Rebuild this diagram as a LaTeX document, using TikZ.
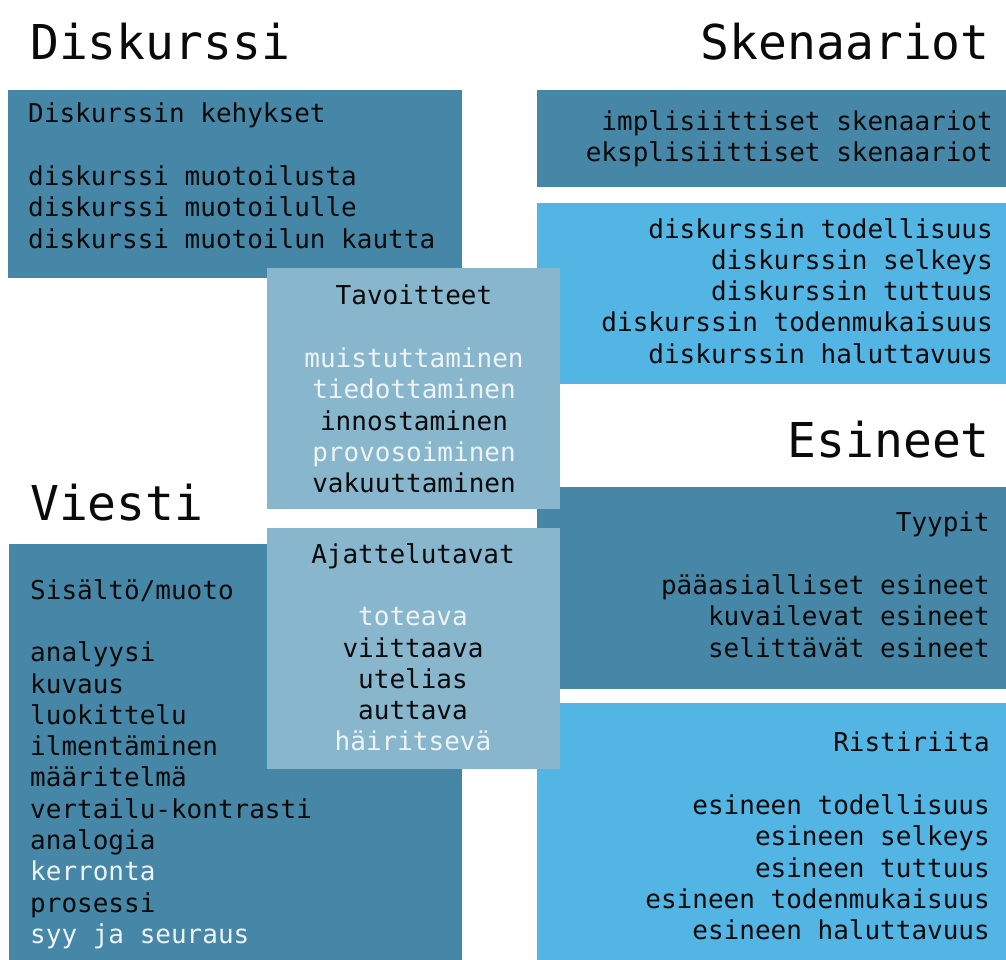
\documentclass[tikz,border=0pt]{standalone}
\usepackage{fontspec}
\setmonofont{DejaVu Sans Mono}
\usepackage{xcolor}
\definecolor{boxdark}{HTML}{4686A6}
\definecolor{boxlight}{HTML}{52B5E3}
\definecolor{boxpale}{HTML}{88B6CC}
\definecolor{inkwhite}{HTML}{EEF4F6}
\definecolor{inkblack}{HTML}{0A0A0A}
\newcommand{\hl}[1]{\textcolor{inkwhite}{#1}}
\tikzset{
	heading/.style={
			inner sep=0pt, text=inkblack,
			font=\ttfamily\fontsize{48pt}{56pt}\selectfont
		},
	listtext/.style={
			inner sep=0pt, text=inkblack,
			font=\ttfamily\fontsize{26pt}{31.3pt}\selectfont
		}
}

\begin{document}
\begin{tikzpicture}[x=1pt,y=-1pt]
        \useasboundingbox (0,0) rectangle (1006,960);

        % Outer boxes
        \fill[boxdark] (8,90) rectangle (462,278);
        \fill[boxdark] (537,90) rectangle (1006,187);
        \fill[boxlight] (537,203) rectangle (1006,384);
        \fill[boxdark] (537,487) rectangle (1006,689);
        \fill[boxlight] (537,703) rectangle (1006,960);
        \fill[boxdark] (9,544) rectangle (462,960);

        % Centre boxes
        \fill[boxpale] (267,268) rectangle (560,509);
        \fill[boxpale] (267,528) rectangle (560,769);

        % Headings
        \node[heading, anchor=base west] (diskurssi) at (30,60) {Diskurssi};
        \node[heading, anchor=base east] (skenaariot) at (990,60) {Skenaariot};
        \node[heading, anchor=base east] (esineet) at (990,457) {Esineet};
        \node[heading, anchor=base west] (viesti) at (30,520) {Viesti};

        % Diskurssi
        \node[listtext, align=left, anchor=north west] (kehykset) at (28,103)
            {Diskurssin kehykset\\[31.3pt]%
             diskurssi muotoilusta\\%
             diskurssi muotoilulle\\%
             diskurssi muotoilun kautta};

        % Skenaariot
        \node[listtext, align=right, anchor=north east] (skenlajit) at (993,110)
            {implisiittiset skenaariot\\%
             eksplisiittiset skenaariot};
        \node[listtext, align=right, anchor=north east] (diskpiirteet) at (993,218)
            {diskurssin todellisuus\\%
             diskurssin selkeys\\%
             diskurssin tuttuus\\%
             diskurssin todenmukaisuus\\%
             diskurssin haluttavuus};

        % Tavoitteet
        \node[listtext, align=center, anchor=north] (tavoitteet) at (414,285)
            {Tavoitteet\\[31.3pt]%
             \hl{muistuttaminen}\\%
             \hl{tiedottaminen}\\%
             innostaminen\\%
             \hl{provosoiminen}\\%
             vakuuttaminen};

        % Ajattelutavat
        \node[listtext, align=center, anchor=north] (ajattelutavat) at (413,543)
            {Ajattelutavat\\[31.3pt]%
             \hl{toteava}\\%
             viittaava\\%
             utelias\\%
             auttava\\%
             \hl{häiritsevä}};

        % Esineet
        \node[listtext, align=right, anchor=north east] (tyypit) at (990,512)
            {Tyypit\\[31.3pt]%
             pääasialliset esineet\\%
             kuvailevat esineet\\%
             selittävät esineet};
        \node[listtext, align=right, anchor=north east] (ristiriita) at (990,732)
            {Ristiriita\\[31.3pt]%
             esineen todellisuus\\%
             esineen selkeys\\%
             esineen tuttuus\\%
             esineen todenmukaisuus\\%
             esineen haluttavuus};

        % Viesti
        \node[listtext, align=left, anchor=north west] (sisalto) at (30,579)
            {Sisältö/muoto\\[31.3pt]%
             analyysi\\%
             kuvaus\\%
             luokittelu\\%
             ilmentäminen\\%
             määritelmä\\%
             vertailu-kontrasti\\%
             analogia\\%
             \hl{kerronta}\\%
             prosessi\\%
             \hl{syy ja seuraus}};

    \end{tikzpicture}
\end{document}
